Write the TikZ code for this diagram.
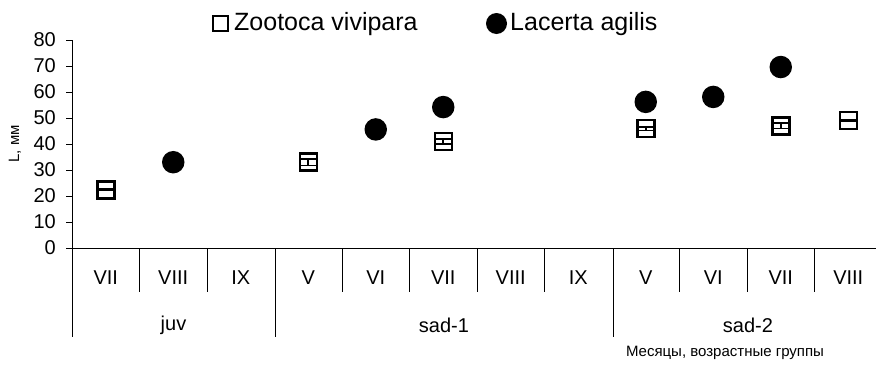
\documentclass[tikz,border=0pt]{standalone}
\usepackage{fontspec}
\setmainfont{Liberation Sans}
\begin{document}
\begin{tikzpicture}[x=1pt,y=-1pt,
  axisline/.style={line width=1pt, line cap=rect},
  sepline/.style={line width=1pt},
  zsq/.style={rectangle, draw, line width=2.5pt, fill=white, minimum size=17pt, inner sep=0pt},
  ldot/.style={circle, fill=black, minimum size=22.5pt, inner sep=0pt},
  ebar/.style={line width=1.6pt},
  ticklab/.style={font=\fontsize{20}{24}\selectfont, inner sep=0pt},
  leglab/.style={font=\fontsize{25}{30}\selectfont, inner sep=0pt},
  smalllab/.style={font=\fontsize{15}{18}\selectfont, inner sep=0pt}]
\useasboundingbox (0,0) rectangle (876,375);
% axes
\coordinate (o) at (72,248);
\coordinate (ytop) at (72,40);
\coordinate (xend) at (876,248);
\coordinate (xstart) at (66,248);
\draw[axisline] (ytop) -- (o);
\draw[axisline] (xstart) -- (xend);
\foreach \v in {0,10,...,80}{
  \coordinate (yt\v) at (66,248-2.6*\v);
  \coordinate (ya\v) at (72,248-2.6*\v);
  \draw[sepline] (yt\v) -- (ya\v);
  \node[ticklab, anchor=east] (yl\v) at (56,248-2.6*\v) {\v};
}
% category separators
\foreach \i in {1,2,4,5,6,7,9,10,11}{
  \coordinate (st\i) at (72+67.5*\i,248);
  \coordinate (sb\i) at (72+67.5*\i,292);
  \draw[sepline] (st\i) -- (sb\i);
}
\foreach \x/\n in {72/a,275/b,613/c}{
  \coordinate (lt\n) at (\x,248);
  \coordinate (lb\n) at (\x,337);
  \draw[sepline] (lt\n) -- (lb\n);
}
% category labels
\foreach \i/\t in {1/VII,2/VIII,3/IX,4/V,5/VI,6/VII,7/VIII,8/IX,9/V,10/VI,11/VII,12/VIII}{
  \node[ticklab] (cat\i) at (72+67.5*\i-33.75,278) {\t};
}
\node[ticklab] (gjuv) at (173.5,325) {juv};
\node[ticklab] (gs1) at (444,325) {sad-1};
\node[ticklab] (gs2) at (748,325) {sad-2};
% axis titles
\node[smalllab, rotate=90] (ytitle) at (15,144) {L, мм};
\node[smalllab] (xtitle) at (725,353) {Месяцы, возрастные группы};
% Zootoca vivipara
\foreach \i/\v/\e in {1/22.4/0.3,4/33.0/1.2,6/41.0/1.0,9/45.9/0.7,11/47.0/1.1,12/49.1/0.2}{
  \node[zsq] (z\i) at (72+67.5*\i-33.75,248-2.6*\v) {};
  \coordinate (zt\i) at (72+67.5*\i-33.75,248-2.6*\v-2.6*\e);
  \coordinate (zb\i) at (72+67.5*\i-33.75,248-2.6*\v+2.6*\e);
  \draw[ebar] (zt\i) -- (zb\i);
  \draw[ebar] ([xshift=-7.5pt]zt\i) -- ([xshift=7.5pt]zt\i);
  \draw[ebar] ([xshift=-7.5pt]zb\i) -- ([xshift=7.5pt]zb\i);
}
% Lacerta agilis
\foreach \i/\v in {2/33.0,5/45.6,6/54.2,9/56.2,10/58.1,11/69.6}{
  \node[ldot] (l\i) at (72+67.5*\i-33.75,248-2.6*\v) {};
}
% legend
\node[rectangle, draw, line width=1.8pt, minimum size=15pt, inner sep=0pt] (legz) at (220.5,23.5) {};
\node[leglab, anchor=base west] (legzt) at (234,30.5) {Zootoca vivipara};
\node[circle, fill=black, minimum size=21pt, inner sep=0pt] (legl) at (496.5,23.5) {};
\node[leglab, anchor=base west] (leglt) at (510,30.5) {Lacerta agilis};
\end{tikzpicture}
\end{document}
